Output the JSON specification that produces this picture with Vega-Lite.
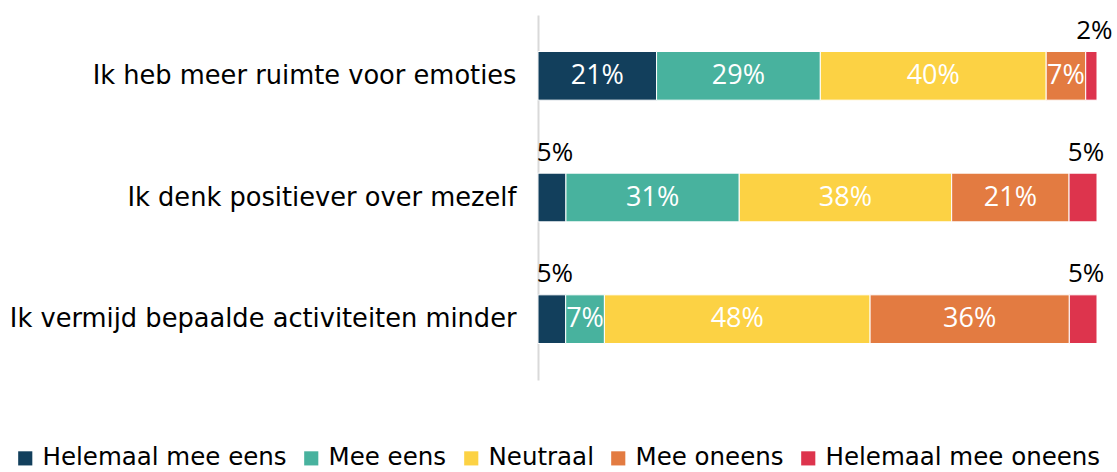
{
  "$schema": "https://vega.github.io/schema/vega-lite/v6.json",
  "width": 559,
  "height": 365,
  "autosize": {"type": "none"},
  "padding": {"left": 538, "top": 15, "right": 20, "bottom": 92},
  "background": "white",
  "config": {"view": {"stroke": null}},
  "data": {
    "values": [
      {"q": "Ik heb meer ruimte voor emoties", "cat": "Helemaal mee eens", "order": 1, "value": 21},
      {"q": "Ik heb meer ruimte voor emoties", "cat": "Mee eens", "order": 2, "value": 29},
      {"q": "Ik heb meer ruimte voor emoties", "cat": "Neutraal", "order": 3, "value": 40},
      {"q": "Ik heb meer ruimte voor emoties", "cat": "Mee oneens", "order": 4, "value": 7},
      {"q": "Ik heb meer ruimte voor emoties", "cat": "Helemaal mee oneens", "order": 5, "value": 2},
      {"q": "Ik denk positiever over mezelf", "cat": "Helemaal mee eens", "order": 1, "value": 5},
      {"q": "Ik denk positiever over mezelf", "cat": "Mee eens", "order": 2, "value": 31},
      {"q": "Ik denk positiever over mezelf", "cat": "Neutraal", "order": 3, "value": 38},
      {"q": "Ik denk positiever over mezelf", "cat": "Mee oneens", "order": 4, "value": 21},
      {"q": "Ik denk positiever over mezelf", "cat": "Helemaal mee oneens", "order": 5, "value": 5},
      {"q": "Ik vermijd bepaalde activiteiten minder", "cat": "Helemaal mee eens", "order": 1, "value": 5},
      {"q": "Ik vermijd bepaalde activiteiten minder", "cat": "Mee eens", "order": 2, "value": 7},
      {"q": "Ik vermijd bepaalde activiteiten minder", "cat": "Neutraal", "order": 3, "value": 48},
      {"q": "Ik vermijd bepaalde activiteiten minder", "cat": "Mee oneens", "order": 4, "value": 36},
      {"q": "Ik vermijd bepaalde activiteiten minder", "cat": "Helemaal mee oneens", "order": 5, "value": 5}
    ]
  },
  "transform": [
    {"stack": "value", "groupby": ["q"], "sort": [{"field": "order", "order": "ascending"}], "offset": "normalize", "as": ["x0", "x1"]},
    {"calculate": "(datum.x0 + datum.x1) / 2", "as": "mid"},
    {"calculate": "datum.value + '%'", "as": "label"}
  ],
  "encoding": {
    "y": {
      "field": "q",
      "type": "nominal",
      "sort": null,
      "scale": {"paddingInner": 0.6, "paddingOuter": 0.3},
      "axis": {
        "title": null,
        "ticks": false,
        "domain": true,
        "domainColor": "#d9d9d9",
        "domainWidth": 2,
        "labelFont": "DejaVu Sans",
        "labelFontSize": 25.7,
        "labelColor": "#000000",
        "labelPadding": 22,
        "labelLimit": 0
      }
    }
  },
  "layer": [
    {
      "mark": {"type": "bar", "stroke": "white", "strokeWidth": 1},
      "encoding": {
        "x": {"field": "x0", "type": "quantitative", "scale": {"domain": [0, 1]}, "axis": null},
        "x2": {"field": "x1"},
        "color": {
          "field": "cat",
          "type": "nominal",
          "sort": ["Helemaal mee eens", "Mee eens", "Neutraal", "Mee oneens", "Helemaal mee oneens"],
          "scale": {
            "domain": ["Helemaal mee eens", "Mee eens", "Neutraal", "Mee oneens", "Helemaal mee oneens"],
            "range": ["#123f5c", "#48b29e", "#fcd244", "#e37b41", "#dd344d"]
          },
          "legend": {
            "title": null,
            "orient": "none",
            "legendX": -525,
            "legendY": 431,
            "direction": "horizontal",
            "symbolType": "square",
            "symbolSize": 200,
            "symbolStrokeWidth": 0,
            "labelFont": "DejaVu Sans",
            "labelFontSize": 24.5,
            "labelColor": "#000000",
            "labelOffset": 5,
            "columnPadding": 12,
            "labelLimit": 0
          }
        }
      }
    },
    {
      "transform": [{"filter": "datum.value > 5"}],
      "mark": {"type": "text", "color": "white", "font": "Open Sans", "fontSize": 27},
      "encoding": {
        "x": {"field": "mid", "type": "quantitative"},
        "text": {"field": "label", "type": "nominal"}
      }
    },
    {
      "transform": [{"filter": "datum.value <= 5"}],
      "mark": {"type": "text", "color": "black", "font": "Open Sans", "fontSize": 26, "baseline": "alphabetic", "yOffset": -37, "dx": 3},
      "encoding": {
        "x": {"field": "mid", "type": "quantitative"},
        "text": {"field": "label", "type": "nominal"}
      }
    }
  ]
}
